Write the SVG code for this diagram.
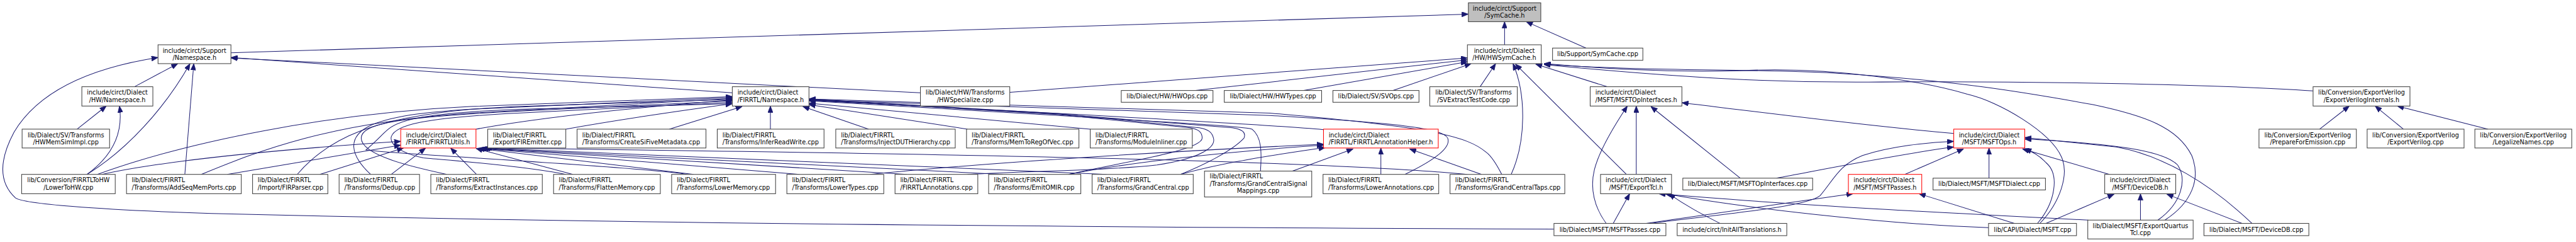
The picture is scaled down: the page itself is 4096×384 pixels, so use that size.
<svg xmlns="http://www.w3.org/2000/svg" width="4096" height="384" viewBox="0 0 4096 384">
<style>
rect.n{fill:#fff;stroke:#404040;stroke-width:1.4}
rect.r{fill:#fff;stroke:#ff0000;stroke-width:1.4}
rect.g{fill:#bfbfbf;stroke:#404040;stroke-width:1.4}
text{font-family:"DejaVu Sans","Liberation Sans",sans-serif;font-size:13px;fill:#000}
text.c{text-anchor:middle}
#edges path{fill:none;stroke:#191970;stroke-width:1.35;marker-end:url(#ah)}
</style>
<defs>
<marker id="ah" markerUnits="userSpaceOnUse" markerWidth="14" markerHeight="11" viewBox="0 0 14 11" refX="14" refY="5.5" orient="auto"><path d="M0,0 L14,5.5 L0,11 z" fill="#191970" stroke="#191970"/></marker>
</defs>
<rect width="4096" height="384" fill="#fff"/>
<g transform="scale(0.74785)">
<g id="edges">
<path d="M491,112 L3122,30"/>
<path d="M3199,95 L3199,46"/>
<path d="M3372,102 L3245,46"/>
<path d="M286,184 L378,135"/>
<path d="M185,370 C270,318 350,230 404,135"/>
<path d="M393,370 L412,135"/>
<path d="M3304,486 C2200,482 1200,472 450,453 C200,445 50,432 33,420 C0,390 -5,345 30,280 C90,180 220,140 336,122"/>
<path d="M1557,197 L491,122"/>
<path d="M1957,197 L491,123"/>
<path d="M164,274 L226,225"/>
<path d="M185,370 C240,330 262,280 254,225"/>
<path d="M207,370 C400,300 700,240 1000,226 L1557,205"/>
<path d="M217,370 Q400,330 852,300"/>
<path d="M428,370 C550,320 700,260 1000,240 L1557,209"/>
<path d="M483,370 L852,308"/>
<path d="M632,370 C700,290 800,250 1000,232 L1557,207"/>
<path d="M680,370 L858,314"/>
<path d="M788,370 C745,330 735,290 790,265 C840,245 900,236 1100,226 L1557,211"/>
<path d="M832,370 L905,314"/>
<path d="M950,370 C880,355 768,330 768,293 C768,262 850,248 1100,236 L1557,214"/>
<path d="M1013,370 L958,314"/>
<path d="M1203,370 C1100,350 950,340 900,335 C850,325 828,305 832,290 C840,265 900,250 1100,240 L1557,217"/>
<path d="M1218,370 L1012,315"/>
<path d="M1460,370 C1400,358 1000,335 900,328 C860,325 800,322 778,318 C800,300 815,282 827,273 C850,255 900,240 1100,232 L1557,220"/>
<path d="M1475,370 L1016,315"/>
<path d="M1700,370 L1020,315"/>
<path d="M1928,370 L1024,315"/>
<path d="M2132,370 L1028,315"/>
<path d="M2353,370 L1030,314"/>
<path d="M3120,370 C2800,340 2000,326 1032,314"/>
<path d="M1012,274 Q1200,240 1557,212"/>
<path d="M1203,274 Q1350,248 1557,220"/>
<path d="M1423,274 L1578,226"/>
<path d="M1638,274 L1638,225"/>
<path d="M1847,274 L1707,226"/>
<path d="M2057,274 L1720,222"/>
<path d="M2318,274 C2100,255 1900,235 1720,219"/>
<path d="M2814,275 C2700,265 2250,240 1720,213"/>
<path d="M2272,370 C2380,345 2556,320 2556,293 C2556,280 2548,274 2530,271 L2250,243 L1720,211"/>
<path d="M2057,370 C2200,362 2350,362 2460,350 C2560,335 2585,310 2580,293 C2577,280 2568,274 2550,271 L2250,241 L1720,210"/>
<path d="M2510,370 C2560,350 2620,320 2645,293 C2650,280 2640,274 2620,271 L2250,242 L1720,212"/>
<path d="M2680,363 C2683,320 2682,290 2662,274 C2640,268 2500,260 2250,245 L1720,214"/>
<path d="M2987,370 C3060,335 3085,310 3078,293 C3070,275 3000,262 2700,245 L1720,212"/>
<path d="M3193,370 C3180,345 3170,330 3160,323 C3120,290 3050,270 2700,240 L1720,210"/>
<path d="M1850,370 C2100,345 2500,320 2814,306"/>
<path d="M2272,370 C2400,345 2600,322 2814,308"/>
<path d="M2510,370 C2600,345 2700,330 2818,313"/>
<path d="M2748,363 L2877,316"/>
<path d="M2936,370 L2936,314"/>
<path d="M3150,370 L2997,316"/>
<path d="M3213,370 C3245,300 3245,200 3217,135"/>
<path d="M2147,196 L3120,123"/>
<path d="M2542,192 L3120,127"/>
<path d="M2772,192 L3120,131"/>
<path d="M2962,192 L3128,135"/>
<path d="M3147,184 L3180,135"/>
<path d="M3458,370 L3222,136"/>
<path d="M3417,184 L3265,136"/>
<path d="M4337,474 C4380,430 4400,370 4383,333 C4360,280 4250,215 4183,200 C4100,175 3900,140 3700,150 C3500,155 3350,140 3283,135"/>
<path d="M4603,467 C4660,430 4680,380 4660,330 C4630,270 4560,245 4450,222 C4300,195 4150,170 3900,155 C3700,145 3500,152 3283,136"/>
<path d="M4918,193 C4700,178 4300,172 4000,174 C3800,176 3600,168 3283,137"/>
<path d="M3415,474 C3390,440 3380,400 3390,360 C3400,320 3430,270 3460,225"/>
<path d="M3479,370 L3479,225"/>
<path d="M3700,378 L3510,226"/>
<path d="M4154,283 C4000,270 3800,245 3576,218"/>
<path d="M3430,474 L3465,411"/>
<path d="M4440,467 C4200,455 3800,435 3527,411"/>
<path d="M4228,483 C4000,475 3700,440 3540,411"/>
<path d="M3657,474 C3620,455 3590,440 3548,411"/>
<path d="M3500,474 C3600,460 3800,430 3940,411"/>
<path d="M4283,474 L4080,411"/>
<path d="M3510,474 C3650,455 3840,440 3870,415 C3900,380 3910,350 3960,330 C4020,310 4100,302 4154,300"/>
<path d="M3777,378 C3900,355 4050,325 4154,312"/>
<path d="M4050,370 L4175,316"/>
<path d="M4229,378 L4229,314"/>
<path d="M4332,474 C4370,430 4380,370 4350,345 C4338,332 4322,322 4305,316"/>
<path d="M4485,370 L4300,316"/>
<path d="M4588,467 C4640,430 4650,380 4630,350 C4600,320 4500,305 4305,295"/>
<path d="M4788,474 C4700,390 4600,330 4500,312 L4305,292"/>
<path d="M4350,474 L4495,412"/>
<path d="M4551,467 L4551,411"/>
<path d="M4767,474 L4607,412"/>
<path d="M4932,274 L4995,225"/>
<path d="M5110,274 L5050,225"/>
<path d="M5290,274 L5097,225"/>
</g>
<g id="symcache_h"><rect class="g" x="3122" y="6" width="154" height="40"/><text class="c" x="3199" y="23">include/circt/Support</text><text class="c" x="3199" y="38">/SymCache.h</text></g>
<g id="support_ns"><rect class="n" x="336" y="95" width="155" height="40"/><text class="c" x="413.5" y="112">include/circt/Support</text><text class="c" x="413.5" y="127">/Namespace.h</text></g>
<g id="hwsymcache"><rect class="n" x="3120" y="95" width="157" height="40"/><text class="c" x="3198.5" y="112">include/circt/Dialect</text><text class="c" x="3198.5" y="127">/HW/HWSymCache.h</text></g>
<g id="symcache_cpp"><rect class="n" x="3301" y="102" width="192" height="26"/><text class="c" x="3397" y="119.5">lib/Support/SymCache.cpp</text></g>
<g id="hw_ns"><rect class="n" x="174" y="184" width="151" height="41"/><text class="c" x="249.5" y="201">include/circt/Dialect</text><text class="c" x="249.5" y="216">/HW/Namespace.h</text></g>
<g id="firrtl_ns"><rect class="n" x="1557" y="184" width="163" height="41"/><text x="1568" y="201">include/circt/Dialect</text><text x="1568" y="216">/FIRRTL/Namespace.h</text></g>
<g id="hwspecialize"><rect class="n" x="1957" y="184" width="190" height="41"/><text class="c" x="2052" y="201">lib/Dialect/HW/Transforms</text><text class="c" x="2052" y="216">/HWSpecialize.cpp</text></g>
<g id="hwops"><rect class="n" x="2384" y="192" width="195" height="25"/><text class="c" x="2481.5" y="209">lib/Dialect/HW/HWOps.cpp</text></g>
<g id="hwtypes"><rect class="n" x="2603" y="192" width="207" height="25"/><text class="c" x="2706.5" y="209">lib/Dialect/HW/HWTypes.cpp</text></g>
<g id="svops"><rect class="n" x="2834" y="192" width="183" height="25"/><text class="c" x="2925.5" y="209">lib/Dialect/SV/SVOps.cpp</text></g>
<g id="svextract"><rect class="n" x="3040" y="184" width="186" height="41"/><text class="c" x="3133" y="201">lib/Dialect/SV/Transforms</text><text class="c" x="3133" y="216">/SVExtractTestCode.cpp</text></g>
<g id="msftopint_h"><rect class="n" x="3381" y="184" width="195" height="41"/><text x="3392" y="201">include/circt/Dialect</text><text x="3392" y="216">/MSFT/MSFTOpInterfaces.h</text></g>
<g id="evinternals"><rect class="n" x="4918" y="184" width="206" height="41"/><text class="c" x="5021" y="201">lib/Conversion/ExportVerilog</text><text class="c" x="5021" y="216">/ExportVerilogInternals.h</text></g>
<g id="hwmemsim"><rect class="n" x="47" y="274" width="186" height="40"/><text class="c" x="140" y="291">lib/Dialect/SV/Transforms</text><text class="c" x="140" y="306">/HWMemSimImpl.cpp</text></g>
<g id="firrtlutils"><rect class="r" x="852" y="274" width="160" height="40"/><text x="863" y="291">include/circt/Dialect</text><text x="863" y="306">/FIRRTL/FIRRTLUtils.h</text></g>
<g id="firemitter"><rect class="n" x="1037" y="274" width="166" height="40"/><text x="1048" y="291">lib/Dialect/FIRRTL</text><text x="1048" y="306">/Export/FIREmitter.cpp</text></g>
<g id="createsifive"><rect class="n" x="1227" y="274" width="274" height="40"/><text x="1238" y="291">lib/Dialect/FIRRTL</text><text x="1238" y="306">/Transforms/CreateSiFiveMetadata.cpp</text></g>
<g id="inferrw"><rect class="n" x="1525" y="274" width="227" height="40"/><text x="1536" y="291">lib/Dialect/FIRRTL</text><text x="1536" y="306">/Transforms/InferReadWrite.cpp</text></g>
<g id="injectdut"><rect class="n" x="1777" y="274" width="254" height="40"/><text x="1788" y="291">lib/Dialect/FIRRTL</text><text x="1788" y="306">/Transforms/InjectDUTHierarchy.cpp</text></g>
<g id="memtoreg"><rect class="n" x="2055" y="274" width="239" height="40"/><text x="2066" y="291">lib/Dialect/FIRRTL</text><text x="2066" y="306">/Transforms/MemToRegOfVec.cpp</text></g>
<g id="moduleinliner"><rect class="n" x="2318" y="274" width="217" height="40"/><text x="2329" y="291">lib/Dialect/FIRRTL</text><text x="2329" y="306">/Transforms/ModuleInliner.cpp</text></g>
<g id="annohelper"><rect class="r" x="2814" y="274" width="244" height="40"/><text x="2825" y="291">include/circt/Dialect</text><text x="2825" y="306">/FIRRTL/FIRRTLAnnotationHelper.h</text></g>
<g id="msftops_h"><rect class="r" x="4154" y="274" width="151" height="40"/><text class="c" x="4229.5" y="291">include/circt/Dialect</text><text class="c" x="4229.5" y="306">/MSFT/MSFTOps.h</text></g>
<g id="prepare"><rect class="n" x="4803" y="274" width="207" height="40"/><text class="c" x="4906.5" y="291">lib/Conversion/ExportVerilog</text><text class="c" x="4906.5" y="306">/PrepareForEmission.cpp</text></g>
<g id="exportverilog"><rect class="n" x="5033" y="274" width="206" height="40"/><text class="c" x="5136" y="291">lib/Conversion/ExportVerilog</text><text class="c" x="5136" y="306">/ExportVerilog.cpp</text></g>
<g id="legalize"><rect class="n" x="5262" y="274" width="206" height="40"/><text class="c" x="5365" y="291">lib/Conversion/ExportVerilog</text><text class="c" x="5365" y="306">/LegalizeNames.cpp</text></g>
<g id="lowertohw"><rect class="n" x="46" y="370" width="199" height="41"/><text class="c" x="145.5" y="387">lib/Conversion/FIRRTLToHW</text><text class="c" x="145.5" y="402">/LowerToHW.cpp</text></g>
<g id="addseqmem"><rect class="n" x="269" y="370" width="244" height="41"/><text x="280" y="387">lib/Dialect/FIRRTL</text><text x="280" y="402">/Transforms/AddSeqMemPorts.cpp</text></g>
<g id="firparser"><rect class="n" x="537" y="370" width="160" height="41"/><text x="548" y="387">lib/Dialect/FIRRTL</text><text x="548" y="402">/Import/FIRParser.cpp</text></g>
<g id="dedup"><rect class="n" x="721" y="370" width="171" height="41"/><text x="732" y="387">lib/Dialect/FIRRTL</text><text x="732" y="402">/Transforms/Dedup.cpp</text></g>
<g id="extractinst"><rect class="n" x="916" y="370" width="237" height="41"/><text x="927" y="387">lib/Dialect/FIRRTL</text><text x="927" y="402">/Transforms/ExtractInstances.cpp</text></g>
<g id="flattenmem"><rect class="n" x="1177" y="370" width="227" height="41"/><text x="1188" y="387">lib/Dialect/FIRRTL</text><text x="1188" y="402">/Transforms/FlattenMemory.cpp</text></g>
<g id="lowermemory"><rect class="n" x="1428" y="370" width="221" height="41"/><text x="1439" y="387">lib/Dialect/FIRRTL</text><text x="1439" y="402">/Transforms/LowerMemory.cpp</text></g>
<g id="lowertypes"><rect class="n" x="1673" y="370" width="206" height="41"/><text x="1684" y="387">lib/Dialect/FIRRTL</text><text x="1684" y="402">/Transforms/LowerTypes.cpp</text></g>
<g id="firrtlannos"><rect class="n" x="1903" y="370" width="176" height="41"/><text x="1914" y="387">lib/Dialect/FIRRTL</text><text x="1914" y="402">/FIRRTLAnnotations.cpp</text></g>
<g id="emitomir"><rect class="n" x="2102" y="370" width="196" height="41"/><text x="2113" y="387">lib/Dialect/FIRRTL</text><text x="2113" y="402">/Transforms/EmitOMIR.cpp</text></g>
<g id="grandcentral"><rect class="n" x="2322" y="370" width="215" height="41"/><text x="2333" y="387">lib/Dialect/FIRRTL</text><text x="2333" y="402">/Transforms/GrandCentral.cpp</text></g>
<g id="gcsigmap"><rect class="n" x="2561" y="363" width="228" height="55"/><text x="2572" y="379">lib/Dialect/FIRRTL</text><text x="2572" y="394">/Transforms/GrandCentralSignal</text><text class="c" x="2675" y="409">Mappings.cpp</text></g>
<g id="lowerannos"><rect class="n" x="2813" y="370" width="246" height="41"/><text x="2824" y="387">lib/Dialect/FIRRTL</text><text x="2824" y="402">/Transforms/LowerAnnotations.cpp</text></g>
<g id="gctaps"><rect class="n" x="3083" y="370" width="244" height="41"/><text x="3094" y="387">lib/Dialect/FIRRTL</text><text x="3094" y="402">/Transforms/GrandCentralTaps.cpp</text></g>
<g id="exporttcl_h"><rect class="n" x="3403" y="370" width="151" height="41"/><text class="c" x="3478.5" y="387">include/circt/Dialect</text><text class="c" x="3478.5" y="402">/MSFT/ExportTcl.h</text></g>
<g id="msftopint_cpp"><rect class="n" x="3578" y="378" width="276" height="25"/><text class="c" x="3716" y="395">lib/Dialect/MSFT/MSFTOpInterfaces.cpp</text></g>
<g id="msftpasses_h"><rect class="r" x="3930" y="370" width="156" height="41"/><text x="3941" y="387">include/circt/Dialect</text><text x="3941" y="402">/MSFT/MSFTPasses.h</text></g>
<g id="msftdialect"><rect class="n" x="4110" y="378" width="239" height="25"/><text class="c" x="4229.5" y="395">lib/Dialect/MSFT/MSFTDialect.cpp</text></g>
<g id="devicedb_h"><rect class="n" x="4475" y="370" width="151" height="41"/><text class="c" x="4550.5" y="387">include/circt/Dialect</text><text class="c" x="4550.5" y="402">/MSFT/DeviceDB.h</text></g>
<g id="msftpasses_cpp"><rect class="n" x="3304" y="474" width="238" height="26"/><text class="c" x="3423" y="491.5">lib/Dialect/MSFT/MSFTPasses.cpp</text></g>
<g id="initalltrans"><rect class="n" x="3566" y="474" width="233" height="26"/><text class="c" x="3682.5" y="491.5">include/circt/InitAllTranslations.h</text></g>
<g id="capi_msft"><rect class="n" x="4228" y="474" width="187" height="26"/><text class="c" x="4321.5" y="491.5">lib/CAPI/Dialect/MSFT.cpp</text></g>
<g id="exportquartus"><rect class="n" x="4439" y="467" width="224" height="40"/><text class="c" x="4551" y="484">lib/Dialect/MSFT/ExportQuartus</text><text class="c" x="4551" y="499">Tcl.cpp</text></g>
<g id="devicedb_cpp"><rect class="n" x="4686" y="474" width="223" height="26"/><text class="c" x="4797.5" y="491.5">lib/Dialect/MSFT/DeviceDB.cpp</text></g>
</g>
</svg>
